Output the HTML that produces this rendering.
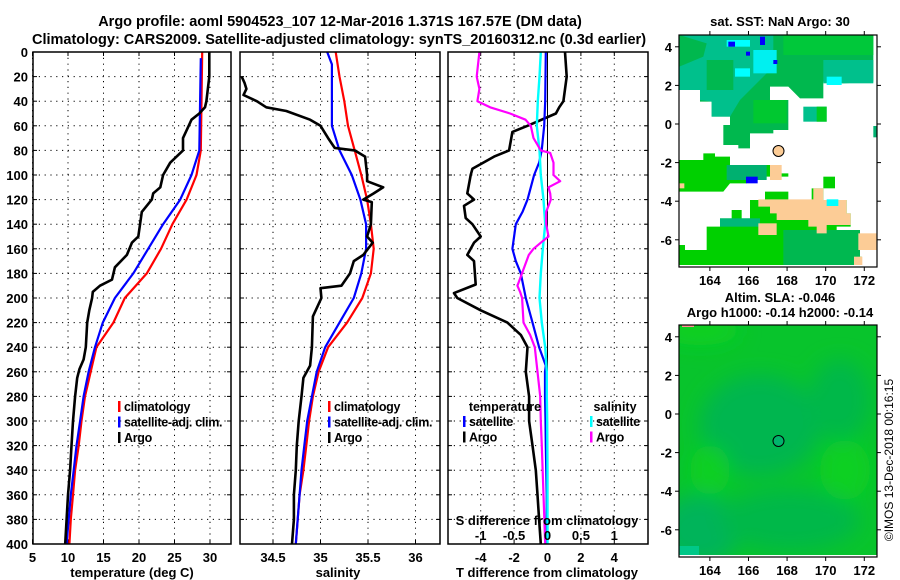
<!DOCTYPE html>
<html><head><meta charset="utf-8"><style>
body{margin:0;background:#fff;}
svg{display:block;font-family:"Liberation Sans",sans-serif;font-weight:bold;}
</style></head><body>
<svg id="chart" width="900" height="580" viewBox="0 0 900 580">
<rect width="900" height="580" fill="#fff"/>
<text x="340" y="26" font-size="14.5" text-anchor="middle">Argo profile: aoml 5904523_107 12-Mar-2016 1.371S 167.57E (DM data)</text>
<text x="339" y="44" font-size="14.5" text-anchor="middle">Climatology: CARS2009. Satellite-adjusted climatology: synTS_20160312.nc (0.3d earlier)</text>

<!-- top map -->
<g>
<text x="780" y="26" font-size="13" text-anchor="middle">sat. SST: NaN Argo: 30</text>
<rect x="679" y="35" width="198" height="232" fill="#fff"/>
<g transform="translate(660 0) scale(0.33333)">
<polygon fill="#00b84e" points="58,105 640,105 640,245 550,250 490,245 490,295 420,295 385,260 330,260 330,300 385,300 385,390 340,390 340,400 270,400 270,445 235,445 235,435 190,435 190,375 210,375 210,350 155,350 155,305 120,305 120,270 58,270"/>
<polygon fill="#00c08c" points="58,105 340,105 340,200 300,240 240,300 210,350 155,350 155,305 120,300 120,270 58,270 58,200 130,170 140,130"/>
<rect x="140" y="180" width="80" height="90" fill="#00b850"/>
<rect x="370" y="105" width="270" height="60" fill="#00c83a"/>
<rect x="280" y="300" width="100" height="70" fill="#00c830"/>
<rect x="490" y="180" width="150" height="70" fill="#00c08c"/>
<rect x="225" y="205" width="45" height="25" fill="#00ffff"/>
<rect x="280" y="150" width="70" height="70" fill="#00f0f0"/>
<rect x="200" y="120" width="70" height="20" fill="#00ffff"/>
<rect x="500" y="230" width="45" height="25" fill="#00ffff"/>
<rect x="300" y="110" width="15" height="25" fill="#0000ff"/>
<rect x="205" y="125" width="20" height="15" fill="#0000ff"/>
<rect x="258" y="155" width="12" height="12" fill="#0000ff"/>
<rect x="340" y="180" width="12" height="12" fill="#0000ff"/>
<rect x="430" y="320" width="70" height="45" fill="#00c08c"/>
<rect x="470" y="320" width="30" height="45" fill="#00cc20"/>
<rect x="640" y="378" width="12" height="34" fill="#00b070"/>
<polygon fill="#00d000" points="58,480 130,480 130,460 165,460 165,470 210,470 210,495 330,495 330,520 385,520 385,530 310,530 310,540 260,540 260,550 210,550 190,575 58,575"/>
<rect x="200" y="495" width="120" height="45" fill="#00b070"/>
<rect x="258" y="530" width="35" height="20" fill="#0000ff"/>
<rect x="330" y="495" width="35" height="45" fill="#fccc96"/>
<rect x="58" y="550" width="15" height="15" fill="#fccc96"/>
<rect x="490" y="530" width="35" height="35" fill="#00d000"/>
<polygon fill="#00d000" points="315,575 385,575 385,600 455,600 455,565 490,565 490,600 560,600 560,640 572,640 572,680 530,680 530,700 580,700 580,740 595,740 595,770 605,770 605,795 58,795 58,735 75,735 75,750 140,750 140,680 180,680 180,655 215,655 215,630 245,630 245,655 270,655 270,600 315,600"/>
<rect x="370" y="690" width="230" height="105" fill="#00b850"/>
<rect x="180" y="655" width="120" height="25" fill="#00b878"/>
<polygon fill="#fccc96" points="295,598 460,598 460,565 490,565 490,600 560,600 560,640 572,640 572,675 500,675 500,700 470,700 470,680 445,680 445,660 350,660 350,640 330,640 330,620 295,620"/>
<rect x="295" y="670" width="55" height="35" fill="#fccc96"/>
<rect x="595" y="700" width="57" height="50" fill="#fccc96"/>
<rect x="582" y="770" width="25" height="25" fill="#fccc96"/>
<rect x="500" y="598" width="35" height="20" fill="#00ffff"/>
</g>
<circle cx="778.5" cy="151" r="5.5" fill="#fccc96" stroke="#000" stroke-width="1"/>
<rect x="679" y="35" width="198" height="232" fill="none" stroke="#000" stroke-width="1.2"/>
<g id="map1ticks"></g>
</g>

<!-- bottom map -->
<g>
<text x="780" y="302" font-size="13" text-anchor="middle">Altim. SLA: -0.046</text>
<text x="780" y="317" font-size="13" text-anchor="middle">Argo h1000: -0.14 h2000: -0.14</text>
<defs>
<filter id="bl" x="-50%" y="-50%" width="200%" height="200%"><feGaussianBlur stdDeviation="10"/></filter>
<clipPath id="mc"><rect x="679" y="325" width="198" height="232"/></clipPath>
</defs>
<g clip-path="url(#mc)">
<rect x="679" y="325" width="198" height="232" fill="#08c42c"/>
<g filter="url(#bl)">
<ellipse cx="760" cy="425" rx="60" ry="50" fill="#00b650"/>
<ellipse cx="840" cy="400" rx="30" ry="40" fill="#00b84a"/>
<ellipse cx="700" cy="530" rx="40" ry="35" fill="#00b45a"/>
<ellipse cx="790" cy="520" rx="70" ry="30" fill="#00b84a"/>
<ellipse cx="700" cy="330" rx="40" ry="15" fill="#10d020"/>
<ellipse cx="845" cy="470" rx="25" ry="30" fill="#10d020"/>
<ellipse cx="710" cy="470" rx="20" ry="25" fill="#10d020"/>
</g>
<rect x="679" y="546" width="20" height="9" fill="#00c888"/>
<rect x="679" y="555" width="198" height="2" fill="#fff"/>
<rect x="682" y="325" width="12" height="2" fill="#ff9090"/>
</g>
<circle cx="778.5" cy="441" r="5.5" fill="#00b46c" stroke="#000" stroke-width="1"/>
<rect x="679" y="325" width="198" height="232" fill="none" stroke="#000" stroke-width="1.2"/>
<g id="map2ticks"></g>
<text transform="translate(893 460) rotate(-90)" font-size="12" font-weight="normal" text-anchor="middle">©IMOS 13-Dec-2018 00:16:15</text>
</g>

<g id="panels"></g>
</svg>
<script>
// ---- data (depth in m) ----
const climDepth = [0,40,80,100,120,140,160,180,200,220,240,260,280,300,320,340,360,380,400];
const climTemp   = [28.9,28.8,28.7,28.1,26.7,24.7,23.1,21.1,18.0,16.4,14.0,13.2,12.4,11.9,11.5,11.0,10.7,10.4,10.2];
const satDepth = [5,40,80,100,120,140,160,180,200,220,240,260,280,300,320,340,360,380,400];
const satTemp   = [28.7,28.6,28.5,27.4,25.8,23.4,21.3,19.2,16.6,14.9,13.8,12.9,12.2,11.7,11.2,10.8,10.4,10.1,9.8];
const argoTDepth = [0,20,40,45,50,55,60,70,80,90,100,110,115,120,130,150,155,165,175,185,190,195,200,210,220,240,250,258,265,280,300,320,340,360,380,400];
const argoTemp   = [29.9,29.9,29.5,29.3,28.5,27.4,27.0,26.2,26.2,24.4,23.4,23.0,22.0,21.8,20.4,19.9,19.0,18.3,16.6,16.2,14.5,13.5,13.4,13.0,12.7,12.5,12.2,11.6,11.3,11.0,10.7,10.5,10.3,10.0,9.8,9.6];

const climSalDepth = [0,20,40,60,80,100,120,140,160,180,200,220,240,260,280,300,320,340,360,380,400];
const climSal      = [35.16,35.2,35.25,35.29,35.36,35.43,35.49,35.53,35.56,35.53,35.44,35.28,35.08,34.98,34.92,34.88,34.85,34.82,34.78,34.76,34.74];
const satSalDepth = [0,10,20,60,80,100,120,140,160,180,200,220,240,260,280,300,320,340,360,380,400];
const satSal      = [35.07,35.12,35.12,35.12,35.2,35.33,35.42,35.48,35.48,35.43,35.35,35.2,35.05,34.96,34.91,34.86,34.83,34.8,34.78,34.76,34.74];
const argoSDepth = [20,25,30,35,40,45,48,55,60,70,78,80,85,100,105,110,115,120,122,140,150,155,165,170,180,190,192,200,215,240,255,265,280,300,320,340,360,380,400];
const argoSal    = [34.17,34.2,34.22,34.19,34.33,34.43,34.64,34.89,35.0,35.08,35.15,35.36,35.47,35.49,35.49,35.66,35.56,35.45,35.54,35.53,35.49,35.55,35.45,35.35,35.31,35.22,35.0,35.01,34.92,34.91,34.89,34.82,34.8,34.77,34.75,34.74,34.72,34.72,34.7];

const dTsatDepth = [0,40,60,80,90,100,110,120,130,140,160,170,180,200,220,240,255,260,280,300,320,360,400];
const dTsat      = [-0.1,-0.14,-0.2,-0.35,-0.5,-0.8,-1.0,-1.2,-1.5,-1.9,-2.1,-1.9,-1.6,-1.3,-0.9,-0.5,-0.1,-0.15,-0.15,-0.12,-0.1,-0.05,-0.05];
const dTargoDepth = [0,20,40,45,50,60,65,80,85,95,100,115,120,125,135,140,150,155,165,170,189,196,200,210,220,230,240,260,280,300,320,340,360,380,400];
const dTargo      = [1.05,1.15,0.95,0.7,0.5,-1.2,-2.1,-2.3,-3.2,-4.5,-4.6,-4.8,-4.4,-5.0,-4.9,-4.5,-4.0,-4.4,-4.8,-4.4,-4.3,-5.6,-5.4,-4.0,-2.4,-1.6,-1.2,-1.3,-1.1,-1.1,-0.9,-0.7,-0.6,-0.5,-0.4];
const dSsatDepth = [0,20,40,60,80,100,120,140,160,180,200,220,240,260,280,300,340,400];
const dSsat      = [-0.1,-0.12,-0.145,-0.16,-0.12,-0.1,-0.06,-0.035,-0.07,-0.1,-0.12,-0.085,-0.035,-0.01,-0.01,-0.005,0,0];
const dSargoDepth = [0,20,30,40,45,50,55,60,70,80,82,90,100,105,110,115,120,130,140,150,155,160,165,187,190,195,200,220,230,240,260,280,300,320,360,400];
const dSargo      = [-1.02,-1.06,-1.02,-1.05,-0.86,-0.56,-0.33,-0.25,-0.21,-0.1,0.04,0.09,0.09,0.19,0.015,0.04,0.05,-0.02,-0.02,0.015,-0.1,-0.21,-0.28,-0.43,-0.45,-0.41,-0.38,-0.36,-0.26,-0.19,-0.15,-0.11,-0.1,-0.085,-0.06,-0.035];

const depthTicks = [0,20,40,60,80,100,120,140,160,180,200,220,240,260,280,300,320,340,360,380,400];
const tempTicks = [5,10,15,20,25,30];
const salTicks = [34.5,35,35.5,36];
const dTTicks = [-4,-2,0,2,4];
const dSTicks = [-1,-0.5,0,0.5,1];
const lonTicks = [164,166,168,170,172];
const latTicks = [4,2,0,-2,-4,-6];

const NS='http://www.w3.org/2000/svg';
const root=document.getElementById('panels');
function mk(tag,attrs,parent){const e=document.createElementNS(NS,tag);for(const k in attrs)e.setAttribute(k,attrs[k]);(parent||root).appendChild(e);return e;}
const Y0=52,Y1=544;
const yD=d=>Y0+(Y1-Y0)*d/400;
const xT=t=>32.5+(t-5)*7.1;
const xS=s=>273+(s-34.5)*95;
const xdT=t=>547.5+t*16.7;
const xdS=s=>547.5+s*66.8;

function frame(name,x0,x1,xticks,xf){
  const g=mk('g',{});
  
  
  depthTicks.forEach(d=>{ if(d>0&&d<400) mk('line',{x1:x0,x2:x1,y1:yD(d),y2:yD(d),stroke:'#000','stroke-width':1,'stroke-dasharray':'1.2 4.6'},g);
    mk('line',{x1:x0,x2:x0+4,y1:yD(d),y2:yD(d),stroke:'#000'},g);mk('line',{x1:x1-4,x2:x1,y1:yD(d),y2:yD(d),stroke:'#000'},g);});
  xticks.forEach(v=>{const x=xf(v); mk('line',{x1:x,x2:x,y1:Y0,y2:Y1,stroke:'#000','stroke-width':1,'stroke-dasharray':'1.2 4.6'},g);
    mk('line',{x1:x,x2:x,y1:Y1-4,y2:Y1,stroke:'#000'},g);mk('line',{x1:x,x2:x,y1:Y0,y2:Y0+4,stroke:'#000'},g);});
  return g;
}
function line(name,xs,ds,xf,color,w,g){
  const p=mk('path',{d:xs.map((v,i)=>(i?'L':'M')+xf(v).toFixed(1)+' '+yD(ds[i]).toFixed(1)).join(' '),fill:'none',stroke:color,'stroke-width':w,'stroke-linejoin':'round'},g);
  
  
}
function txt(name,x,y,s,size,anchor,g){const t=mk('text',{x:x,y:y,'font-size':size||13,'text-anchor':anchor||'middle'},g);t.textContent=s;
  
  return t;}
function box(x0,x1,g){mk('rect',{x:x0,y:Y0,width:x1-x0,height:Y1-Y0,fill:'none',stroke:'#000','stroke-width':1.5},g);}
function legend(items,x,y,g){items.forEach((it,i)=>{mk('rect',{x:x,y:y+i*15.5-10,width:2.5,height:11,fill:it[1]},g);const t=txt('legend-'+it[0].replace(/[^a-z]+/gi,'-').toLowerCase(),x+6,y+i*15.5,it[0],12.5,'start',g);t.setAttribute('letter-spacing','-0.3');});}

// panel 1
const g1=frame('temperature-panel',33,231,tempTicks,xT);
line('climatology-temp',climTemp,climDepth,xT,'#ff0000',2.2,g1);
line('satellite-adj-temp',satTemp,satDepth,xT,'#0000ff',2.2,g1);
line('argo-temp',argoTemp,argoTDepth,xT,'#000',2.6,g1);
box(33,231,g1);
depthTicks.forEach(d=>txt('depth-tick-'+d,28,yD(d)+5,String(d),13,'end',g1));
tempTicks.forEach(v=>txt('temp-tick-'+v,xT(v),562,String(v),13,'middle',g1));
txt('temp-axis-title',132,577,'temperature (deg C)',13,'middle',g1);
legend([['climatology','#ff0000'],['satellite-adj. clim.','#0000ff'],['Argo','#000']],118,411,g1);

// panel 2
const g2=frame('salinity-panel',240,440,salTicks,xS);
line('climatology-sal',climSal,climSalDepth,xS,'#ff0000',2.2,g2);
line('satellite-adj-sal',satSal,satSalDepth,xS,'#0000ff',2.2,g2);
line('argo-sal',argoSal,argoSDepth,xS,'#000',2.6,g2);
box(240,440,g2);
salTicks.forEach(v=>txt('sal-tick-'+v,xS(v),562,String(v),13,'middle',g2));
txt('sal-axis-title',338,577,'salinity',13,'middle',g2);
legend([['climatology','#ff0000'],['satellite-adj. clim.','#0000ff'],['Argo','#000']],328,411,g2);

// panel 3
const g3=frame('difference-panel',448,648,dTTicks,xdT);
mk('line',{x1:xdT(0),x2:xdT(0),y1:Y0,y2:Y1,stroke:'#000','stroke-width':1},g3);
line('argo-temp-diff',dTargo,dTargoDepth,xdT,'#000',2.6,g3);
line('satellite-temp-diff',dTsat,dTsatDepth,xdT,'#0000ff',2.2,g3);
line('satellite-sal-diff',dSsat,dSsatDepth,xdS,'#00ffff',2.4,g3);
line('argo-sal-diff',dSargo,dSargoDepth,xdS,'#ff00ff',2.2,g3);
box(448,648,g3);
dTTicks.forEach(v=>txt('dT-tick-'+v,xdT(v),562,String(v),13,'middle',g3));
txt('dT-axis-title',547,577,'T difference from climatology',13,'middle',g3);
dSTicks.forEach(v=>txt('dS-tick-'+v,xdS(v),540,String(v),13,'middle',g3));
txt('dS-axis-title',547,525,'S difference from climatology',13,'middle',g3);
txt('legend-temperature-title',505,411,'temperature',12.5,'middle',g3);
txt('legend-salinity-title',615,411,'salinity',12.5,'middle',g3);
legend([['satellite','#0000ff'],['Argo','#000']],463,426,g3);
legend([['satellite','#00ffff'],['Argo','#ff00ff']],590,426,g3);

// map ticks
function mapTicks(id,yTop,yBot,lat0){
  const g=document.getElementById(id);
  const xL=lon=>679+(lon-162.4)*19.3;
  const yL=lat=>lat0-lat*19.3;
  lonTicks.forEach(v=>{const x=xL(v);mk('line',{x1:x,x2:x,y1:yTop-4,y2:yTop,stroke:'#000'},g);mk('line',{x1:x,x2:x,y1:yBot,y2:yBot+4,stroke:'#000'},g);
    txt('lon-tick-'+v,x,yBot+18,String(v),13,'middle',g);});
  latTicks.forEach(v=>{const y=yL(v);mk('line',{x1:675,x2:679,y1:y,y2:y,stroke:'#000'},g);mk('line',{x1:877,x2:881,y1:y,y2:y,stroke:'#000'},g);
    txt('lat-tick-'+v,672,y+5,String(v),13,'end',g);});
}
mapTicks('map1ticks',35,267,124);
mapTicks('map2ticks',325,557,414);
</script>
</body></html>
